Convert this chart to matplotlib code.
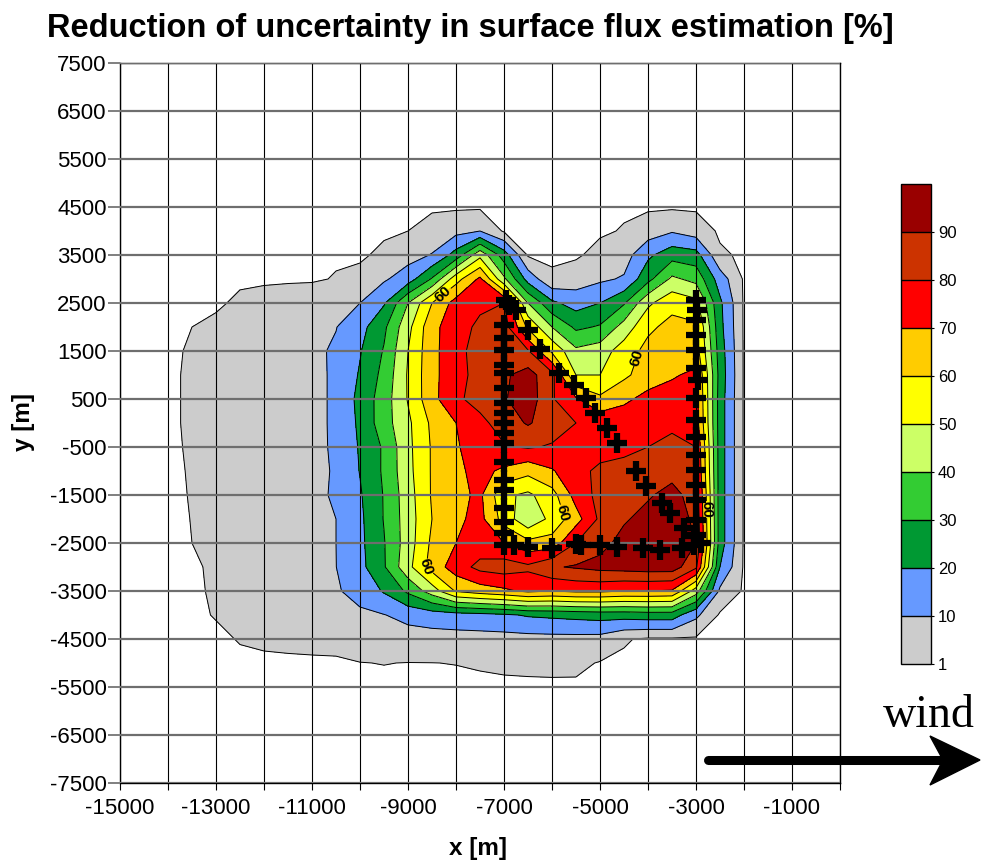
import matplotlib
import numpy as np

matplotlib.use("Agg")
import matplotlib.pyplot as plt  # noqa: E402
from matplotlib.lines import Line2D  # noqa: E402
from matplotlib.patches import Polygon  # noqa: E402

plt.rcParams["font.family"] = ["Liberation Sans", "DejaVu Sans"]

# ---- gridded reduction of flux uncertainty [%] (500 m nodes) ----
x_nodes = np.arange(-14500, -1499, 500)
y_nodes = np.arange(5000, -6001, -500)

row_p5000 = [0] * 27
row_p4500 = [0] * 27
row_p4000 = [0, 0, 0, 0, 0, 0, 0, 0, 0, 0, 0, 1, 4, 7, 10, 0, 0, 0, 0, 0, 1.5, 5, 9, 5, 0, 0, 0]
row_p3500 = [0, 0, 0, 0, 0, 0, 0, 0, 0, 0, 2.5, 6.4, 10.5, 24, 47, 25, 0, 0, 0, 3.4, 5.7, 18, 26, 24, 2, 0, 0]
row_p3000 = [0, 0, 0, 0, 0, 0, 0, 0, 1.5, 3, 8.7, 15, 31, 56, 72, 42, 16, 2, 5, 8.3, 11, 27, 42, 37, 15, 0, 0]
row_p2500 = [0, 0, 0, 0, 2.2, 3.7, 5.3, 6.9, 8.4, 10, 19, 40, 60, 74, 78, 80, 40, 22, 16, 20, 29, 48, 57, 53, 22, 0, 0]
row_p2000 = [0, 0, 1, 2.5, 3.9, 5.4, 6.8, 8.3, 9.7, 16.5, 28, 47, 67, 76, 82, 85, 58, 40, 28, 31, 44, 58, 63, 62, 23, 0, 0]
row_p1500 = [0, 0, 1.6, 3, 4.5, 5.9, 7.4, 8, 11.3, 19.3, 30.8, 50, 67, 77, 84, 88, 81, 58, 42, 45, 55, 63, 66, 65, 25, 0, 0]
row_p1000 = [0, 0, 1.9, 3.3, 4.7, 6.1, 7.5, 8.3, 11, 21, 33, 51, 67, 77, 83, 88.5, 94, 83, 50, 50, 58, 65, 69, 72, 26, 0, 0]
row_p500 = [0, 0, 1.9, 3.3, 4.7, 6.1, 7.5, 8.3, 11, 23, 35, 50.7, 67, 78, 84, 89, 96, 81, 71, 62, 68, 73, 74, 74, 25, 0, 0]
row_0 = [0, 0, 1.9, 3.3, 4.7, 6.1, 7.5, 8.3, 11, 22, 35.6, 48, 62, 70, 77, 85, 91, 85, 80, 77, 76, 76, 77, 75, 25, 0, 0]
row_m500 = [0, 0, 1.65, 3.1, 4.5, 6, 7.4, 8.5, 10.8, 21, 31.4, 47.5, 61, 69, 75, 79, 81, 79, 77, 76, 77, 80, 84, 80, 25, 0, 0]
row_m1000 = [0, 0, 1.4, 2.9, 4.3, 5.8, 7.3, 8.3, 10.6, 20.4, 31.5, 47, 61, 68, 73, 68, 63, 69, 77, 82, 84, 85, 87, 82, 25, 0, 0]
row_m1500 = [0, 0, 1.25, 2.7, 4.2, 5.7, 7.2, 8.6, 10.7, 19, 30.6, 45.6, 61, 67, 72, 52, 48, 56, 74, 83, 86, 89, 93, 86, 25, 0, 0]
row_m2000 = [0, 0, 1.1, 2.6, 4.1, 5.7, 7.2, 8.6, 10, 18, 30.5, 45, 60, 68, 73, 56, 42, 53, 66, 82, 89, 93, 95, 88, 25, 0, 0]
row_m2500 = [0, 0, 1, 2.6, 4.1, 5.7, 7.2, 8.6, 10, 17.7, 29.4, 45, 62, 70, 74, 70, 63, 64, 80, 87, 93, 95, 96, 90, 25, 0, 0]
row_m3000 = [0, 0, 0, 2.2, 3.8, 5.3, 6.9, 8.5, 9.9, 17, 29, 47, 64, 75, 83, 85, 82, 89, 91, 93, 94, 95, 95, 82, 20, 0, 0]
row_m3500 = [0, 0, 0, 1.8, 3.3, 4.7, 6.2, 7.6, 9.1, 13, 21, 32, 45, 61, 65, 68, 72, 70, 72, 72, 70, 70, 69, 45, 8, 0, 0]
row_m4000 = [0, 0, 0, 1.3, 2.5, 3.7, 4.9, 6.1, 7.3, 8.5, 9.7, 13, 15, 16, 17, 18.5, 21, 22, 23, 24, 24, 25, 25, 12, 0, 0, 0]
row_m4500 = [0, 0, 0, 0, 1.3, 2, 2.5, 3, 3.5, 3.8, 4.8, 5.7, 6, 6.3, 6.4, 6.5, 6.8, 7, 7, 6.7, 1.6, 0, 0, 0, 0, 0, 0]
row_m5000 = [0, 0, 0, 0, 0, 0, 0, 0, 0, 0.9, 1.1, 0.9, 0.95, 1.1, 1.5, 2, 2.3, 2.5, 2.4, 0.6, 0, 0, 0, 0, 0, 0, 0]
row_m5500 = [0] * 27
row_m6000 = [0] * 27

reduction = np.array([
    row_p5000, row_p4500, row_p4000, row_p3500, row_p3000, row_p2500,
    row_p2000, row_p1500, row_p1000, row_p500, row_0, row_m500,
    row_m1000, row_m1500, row_m2000, row_m2500, row_m3000, row_m3500,
    row_m4000, row_m4500, row_m5000, row_m5500, row_m6000,
], dtype=float)

levels = [1, 10, 20, 30, 40, 50, 60, 70, 80, 90, 100]
band_colors = ["#cccccc", "#6699ff", "#009933", "#33cc33", "#ccff66",
               "#ffff00", "#ffcc00", "#ff0000", "#cc3300", "#990000"]

# measurement positions (m)
west_x = [-6950, -6900, -7000, -7000, -7000, -7000, -7000, -7000, -7000, -7000,
          -7000, -7000, -7000, -7000, -7000, -7000, -7000, -7000, -7000, -7000]
west_y = [2560, 2450, 2040, 1770, 1520, 1210, 1040, 730, 420, 210,
          0, -210, -420, -810, -1190, -1400, -1770, -2060, -2290, -2540]
diag_x = [-6750, -6500, -6250, -5850, -5550, -5300, -5100, -4850, -4650,
          -4250, -4050, -3700, -3550, -3250, -3050, -2900]
diag_y = [2350, 1940, 1540, 1040, 790, 520, 210, -100, -420,
          -1000, -1310, -1670, -1880, -2190, -2350, -2500]
south_x = [-6800, -6500, -6000, -5500, -5400, -5000, -4650, -4100, -3750, -3300, -3050]
south_y = [-2540, -2580, -2600, -2520, -2540, -2540, -2580, -2600, -2640, -2600, -2540]
east_x = [-3000, -2980, -3000, -3000, -3000, -3000, -2950, -3000, -3000,
          -3000, -3000, -3000, -3000, -3000, -3000, -3000]
east_y = [2560, 2350, 2150, 1830, 1520, 1150, 900, 520, 70,
          -290, -670, -980, -1290, -1600, -2020, -2330]

label_level = 60
label_spots = [(-8190, 2620), (-4310, 1380), (-5900, -1900),
               (-8690, -3000), (-2780, -1800)]

x_ticks = list(range(-15000, 1, 1000))
x_labels = [str(v) if (v + 15000) % 2000 == 0 and v != 0 else "" for v in x_ticks]
y_ticks = list(range(7500, -7501, -1000))
y_labels = [str(v) for v in y_ticks]

W, H = 987, 867
fig = plt.figure(figsize=(W / 100, H / 100), dpi=100)
ax = fig.add_axes([120 / W, 84 / H, 720 / W, 720 / H])

cf = ax.contourf(x_nodes, y_nodes, reduction, levels=levels, colors=band_colors)
plain_levels = [lv for lv in levels[:-1] if lv != label_level]
ax.contour(x_nodes, y_nodes, reduction, levels=plain_levels,
           colors="k", linewidths=0.7)
cs60 = ax.contour(x_nodes, y_nodes, reduction, levels=[label_level],
                  colors="k", linewidths=0.7)
texts = ax.clabel(cs60, manual=label_spots, fmt="%d",
                  fontsize=11, inline=True, inline_spacing=3)
for t in texts:
    t.set_fontweight("bold")

for xs, ys in [(west_x, west_y), (diag_x, diag_y), (south_x, south_y), (east_x, east_y)]:
    ax.plot(xs, ys, linestyle="none", marker="+", color="k",
            markersize=14, markeredgewidth=4.5, zorder=6)

ax.set_xlim(-15000, 0)
ax.set_ylim(-7500, 7500)
ax.set_xticks(x_ticks)
ax.set_xticklabels(x_labels)
ax.set_yticks(y_ticks)
ax.set_yticklabels(y_labels)
ax.set_axisbelow(False)
ax.xaxis.grid(True, color="k", linewidth=0.8)
ax.yaxis.grid(True, color="#6e6e6e", linewidth=1.6)
ax.tick_params(axis="x", direction="out", length=5, width=0.8, color="k",
               labelsize=16, pad=5.5)
ax.tick_params(axis="y", direction="out", length=8.5, width=1.4, color="#7f7f7f",
               labelsize=16, pad=1)
for sp in ax.spines.values():
    sp.set_color("k")
    sp.set_linewidth(1.0)

# colour scale
cax = fig.add_axes([901 / W, 203 / H, 30 / W, 480 / H])
cb = fig.colorbar(cf, cax=cax, ticks=levels[:-1], drawedges=True)
cb.dividers.set_color("k")
cb.dividers.set_linewidth(1.0)
cb.outline.set_linewidth(1.0)
cax.tick_params(length=2, width=0.8, labelsize=12, pad=3)

fig.text(470 / W, 1 - 37 / H, "Reduction of uncertainty in surface flux estimation [%]",
         fontsize=23.5, fontweight="bold", ha="center", va="baseline")
fig.text(478 / W, 1 - 848 / H, "x [m]", fontsize=17.5, fontweight="bold",
         ha="center", va="center")
fig.text(24 / W, 1 - 422 / H, "y [m]", fontsize=17.5, fontweight="bold",
         rotation=90, ha="center", va="center")

# wind direction arrow
fig.add_artist(Line2D([708 / W, 945 / W], [1 - 760 / H, 1 - 760 / H],
                      color="k", linewidth=6.5, solid_capstyle="round",
                      transform=fig.transFigure))
head = [(980, 760), (930, 736), (943, 760), (930, 785)]
fig.add_artist(Polygon([(px / W, 1 - py / H) for px, py in head], closed=True,
                       facecolor="k", edgecolor="k", transform=fig.transFigure))
fig.text(883 / W, 1 - 727 / H, "wind", fontsize=33,
         family=["Liberation Serif", "DejaVu Serif"], ha="left", va="baseline")

fig.savefig("out.png", dpi=100)
